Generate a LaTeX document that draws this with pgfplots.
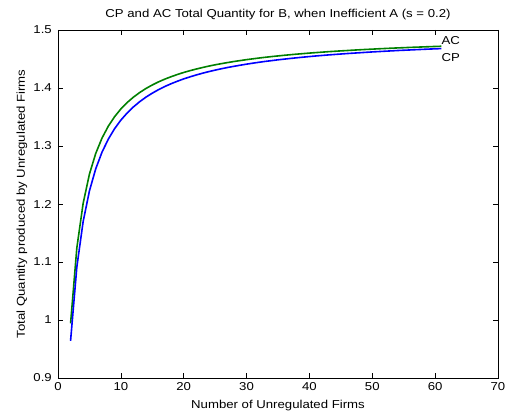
\documentclass[border=0pt]{standalone}
\usepackage{pgfplots}
\pgfplotsset{compat=1.18}
\usepackage{fontspec}
\setmainfont{Liberation Sans}[FakeStretch=1.15]

\pgfplotstableread{
n   cp      ac
2   0.9640  0.9941
3   1.0916  1.1246
4   1.1697  1.2011
5   1.2225  1.2515
6   1.2606  1.2871
7   1.2893  1.3136
8   1.3117  1.3341
9   1.3298  1.3505
10  1.3446  1.3638
11  1.3569  1.3749
12  1.3674  1.3842
13  1.3764  1.3922
14  1.3843  1.3992
15  1.3911  1.4052
16  1.3972  1.4106
17  1.4026  1.4153
18  1.4074  1.4195
19  1.4117  1.4233
20  1.4157  1.4268
21  1.4192  1.4299
22  1.4225  1.4327
23  1.4255  1.4353
24  1.4283  1.4378
25  1.4308  1.4400
26  1.4332  1.4420
27  1.4354  1.4439
28  1.4374  1.4457
29  1.4393  1.4473
30  1.4411  1.4489
31  1.4428  1.4503
32  1.4444  1.4517
33  1.4459  1.4530
34  1.4472  1.4542
35  1.4486  1.4553
36  1.4498  1.4564
37  1.4510  1.4574
38  1.4521  1.4584
39  1.4532  1.4593
40  1.4542  1.4602
41  1.4552  1.4610
42  1.4561  1.4618
43  1.4570  1.4626
44  1.4578  1.4633
45  1.4586  1.4640
46  1.4594  1.4646
47  1.4601  1.4653
48  1.4608  1.4659
49  1.4615  1.4665
50  1.4622  1.4670
51  1.4628  1.4676
52  1.4634  1.4681
53  1.4640  1.4686
54  1.4646  1.4691
55  1.4651  1.4695
56  1.4656  1.4700
57  1.4661  1.4704
58  1.4666  1.4708
59  1.4671  1.4712
60  1.4675  1.4716
61  1.4680  1.4720
}\qdata

\definecolor{mblue}{rgb}{0,0,1}
\definecolor{mgreen}{rgb}{0,0.5,0}

\begin{document}
\begin{tikzpicture}
\path[use as bounding box] (-58bp,-37bp) rectangle (450bp,378bp);
\begin{axis}[
    at={(0,0)}, anchor=south west,
    scale only axis,
    width=440bp, height=348bp,
    xmin=0, xmax=70,
    ymin=0.9, ymax=1.5,
    xtick={0,10,...,70},
    ytick={0.9,1,1.1,1.2,1.3,1.4,1.5},
    yticklabels={0.9,1,1.1,1.2,1.3,1.4,1.5},
    tick align=inside,
    major tick length=5bp,
    tick style={black, line width=0.6bp},
    axis line style={black, line width=0.8bp},
    /pgf/number format/assume math mode=true,
    ticklabel style={font=\fontsize{11.5}{13}\selectfont, inner sep=0pt},
    xticklabel style={anchor=north, yshift=-4bp},
    yticklabel style={anchor=east, xshift=-6bp},
    label style={font=\fontsize{11.5}{13}\selectfont},
    xlabel={Number of Unregulated Firms},
    ylabel={Total Quantity produced by Unregulated Firms},
    xlabel style={at={(axis description cs:0.5,-0.0805)}, anchor=center},
    ylabel style={at={(axis description cs:-0.082,0.5)}, anchor=center},
    title={CP and AC Total Quantity for B, when Inefficient A (s = 0.2)},
    title style={font=\fontsize{11.5}{13}\selectfont, at={(axis description cs:0.5,1.0259)}, anchor=center},
    clip=false,
]
\addplot[mgreen, line width=1.6bp] table[x=n, y=ac] {\qdata};
\addplot[mblue, line width=1.6bp] table[x=n, y=cp] {\qdata};
\node[anchor=west, inner sep=0pt, font=\fontsize{11.5}{13}\selectfont] at (axis cs:61,1.481) {AC};
\node[anchor=west, inner sep=0pt, font=\fontsize{11.5}{13}\selectfont] at (axis cs:61,1.452) {CP};
\end{axis}
\end{tikzpicture}
\end{document}
